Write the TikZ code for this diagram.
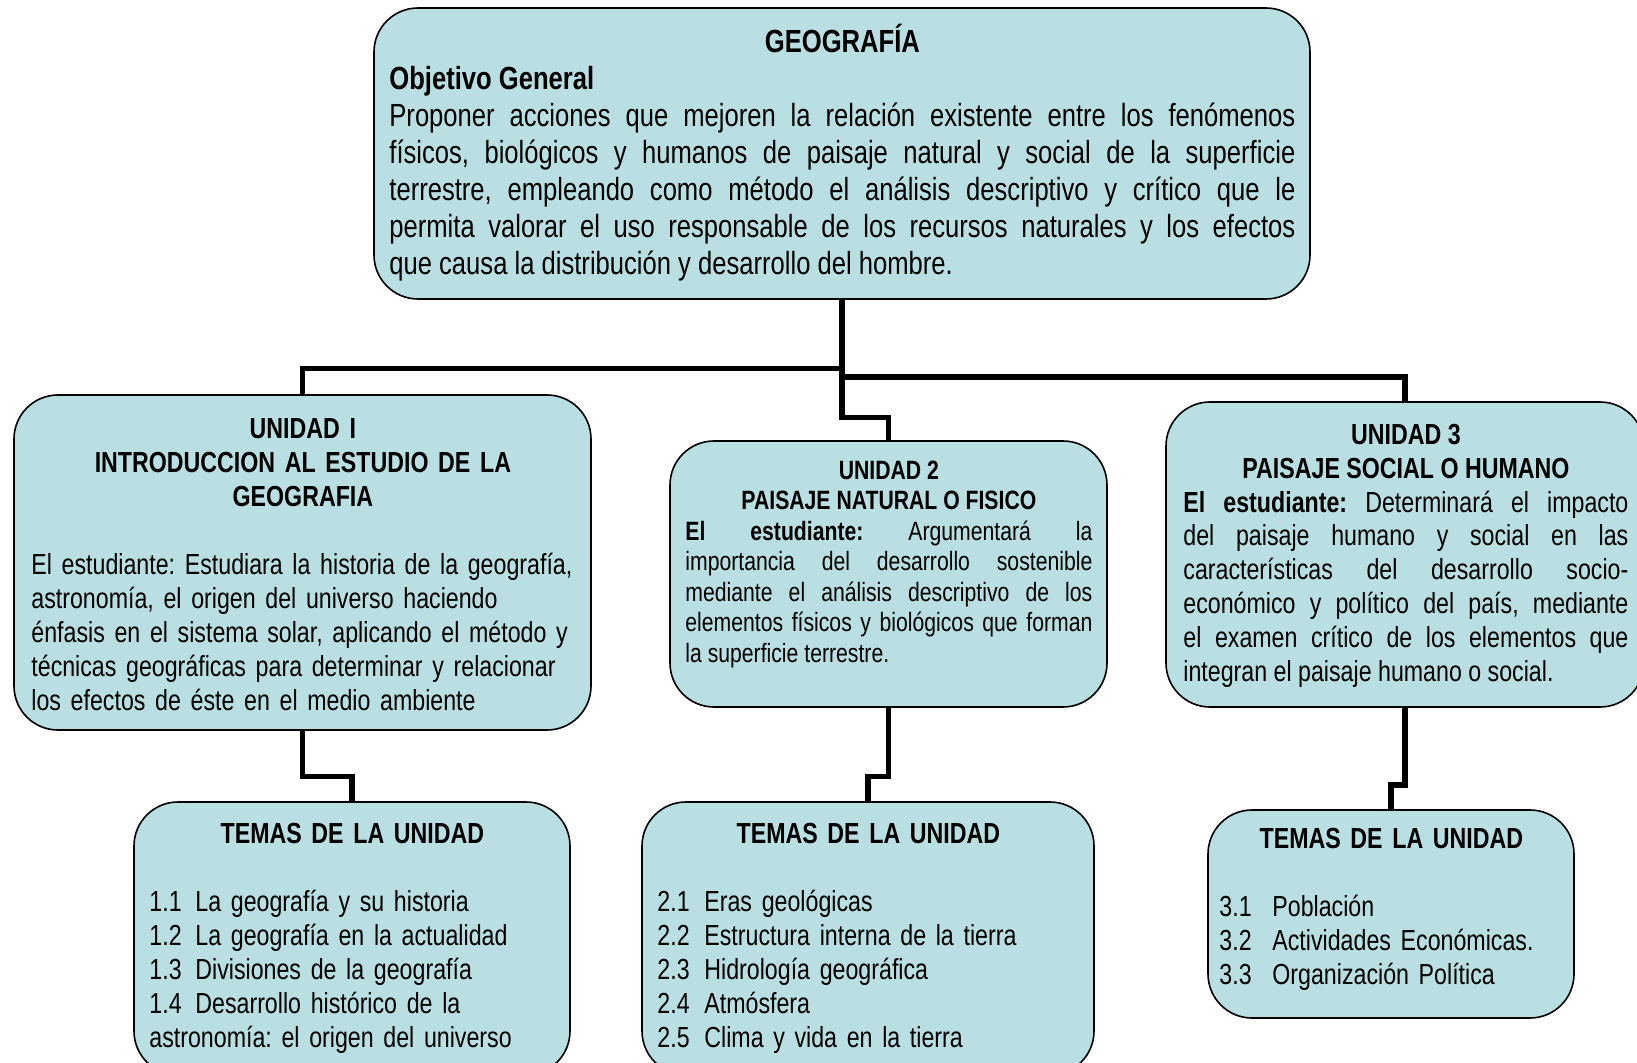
\documentclass[tikz,border=0pt]{standalone}
\usepackage{fontspec}
\setmainfont{Liberation Sans}[FakeStretch=0.80]
\frenchspacing
\hyphenpenalty=10000

\definecolor{celeste}{RGB}{185,223,227}

\tikzset{
  caja/.style={draw, line width=0.8pt, fill=celeste, rounded corners=22pt},
  enlace/.style={line width=2.6pt},
  texto/.style={inner sep=0pt, anchor=base west},
}

\newcommand{\tema}[3][23pt]{\makebox[#1][l]{#2}#3}

\begin{document}
\begin{tikzpicture}[x=0.5pt, y=-0.5pt]
        \useasboundingbox (0,0) rectangle (1637,1063);
        \fill [white] (0,0) rectangle (1637,1063);

        % cajas
        \node [caja, minimum width=468pt, minimum height=145.5pt] (geo) at (842,153.5) {};
        \node [caja, minimum width=288.5pt, minimum height=167.5pt] (unidadI) at (302.5,562.5) {};
        \node [caja, minimum width=218.5pt, minimum height=133pt] (unidadII) at (888.5,574) {};
        \node [caja, minimum width=239pt, minimum height=152.5pt] (unidadIII) at (1405,554.5) {};
        \node [caja, minimum width=218pt, minimum height=136.5pt] (temasI) at (352,938.5) {};
        \node [caja, minimum width=226pt, minimum height=136.5pt] (temasII) at (868,938.5) {};
        \node [caja, minimum width=183pt, minimum height=104pt] (temasIII) at (1391,914) {};

        % textos
        \node [texto, text width=453pt, align=justify,
          font={\fontsize{16}{18.5}\selectfont}] (geoTxt) at (389,53)
        {{\centering\bfseries GEOGRAFÍA\par}
          \textbf{Objetivo General}\par
          Proponer acciones que mejoren la relación existente entre los fenómenos\linebreak
          físicos, biológicos y humanos de paisaje natural y social de la superficie\linebreak
          terrestre, empleando como método el análisis descriptivo y crítico que le\linebreak
          permita valorar el uso responsable de los recursos naturales y los efectos\linebreak
          que causa la distribución y desarrollo del hombre.};

        \node [texto, text width=271.5pt, align=left,
          font={\fontsize{14.5}{17}\selectfont}] (unidadITxt) at (31,438.5)
        {{\centering\bfseries UNIDAD I\\ INTRODUCCION AL ESTUDIO DE LA\\ GEOGRAFIA\par}
          \vspace{17pt}
          El estudiante: Estudiara la historia de la geografía,\\
          astronomía, el origen del universo haciendo\\
          énfasis en el sistema solar, aplicando el método y\\
          técnicas geográficas para determinar y relacionar\\
          los efectos de éste en el medio ambiente};

        \node [texto, text width=203.5pt, align=justify,
          font={\fontsize{13.25}{15.25}\selectfont}] (unidadIITxt) at (685,479.5)
        {{\centering\bfseries UNIDAD 2\\ PAISAJE NATURAL O FISICO\par}
          \textbf{El estudiante:} Argumentará la\linebreak
          importancia del desarrollo sostenible\linebreak
          mediante el análisis descriptivo de los\linebreak
          elementos físicos y biológicos que forman\linebreak
          la superficie terrestre.};

        \node [texto, text width=222.5pt, align=justify,
          font={\fontsize{14.5}{16.9}\selectfont}] (unidadIIITxt) at (1183,444.5)
        {{\centering\bfseries UNIDAD 3\\ PAISAJE SOCIAL O HUMANO\par}
          \textbf{El estudiante:} Determinará el impacto\linebreak
          del paisaje humano y social en las\linebreak
          características del desarrollo socio-\linebreak
          económico y político del país, mediante\linebreak
          el examen crítico de los elementos que\linebreak
          integran el paisaje humano o social.};

        \node [texto, text width=203pt, align=left,
          font={\fontsize{14.5}{17}\selectfont}] (temasITxt) at (149,843.5)
        {{\centering\bfseries TEMAS DE LA UNIDAD\par}
          \vspace{17pt}
          \tema{1.1}{La geografía y su historia}\\
          \tema{1.2}{La geografía en la actualidad}\\
          \tema{1.3}{Divisiones de la geografía}\\
          \tema{1.4}{Desarrollo histórico de la}\\
          astronomía: el origen del universo};

        \node [texto, text width=211pt, align=left,
          font={\fontsize{14.5}{17}\selectfont}] (temasIITxt) at (657,843.5)
        {{\centering\bfseries TEMAS DE LA UNIDAD\par}
          \vspace{17pt}
          \tema[23.5pt]{2.1}{Eras geológicas}\\
          \tema[23.5pt]{2.2}{Estructura interna de la tierra}\\
          \tema[23.5pt]{2.3}{Hidrología geográfica}\\
          \tema[23.5pt]{2.4}{Atmósfera}\\
          \tema[23.5pt]{2.5}{Clima y vida en la tierra}};

        \node [texto, text width=172pt, align=left,
          font={\fontsize{14.5}{17}\selectfont}] (temasIIITxt) at (1219,848.5)
        {{\centering\bfseries TEMAS DE LA UNIDAD\par}
          \vspace{17pt}
          \tema[26.5pt]{3.1}{Población}\\
          \tema[26.5pt]{3.2}{Actividades Económicas.}\\
          \tema[26.5pt]{3.3}{Organización Política}};

        % enlaces
        \coordinate (nivelI) at (0,368.5);
        \coordinate (nivelII) at (0,417.5);
        \coordinate (nivelIII) at (0,377);
        \coordinate (bajoI) at (0,776.5);
        \coordinate (bajoIII) at (0,785);

        \draw [enlace]
        (geo.south) -- (geo.south |- nivelII) -| (unidadII.north)
        (geo.south |- nivelI) -| (unidadI.north)
        (geo.south |- nivelIII) -| (unidadIII.north);

        \draw [enlace]
        (unidadI.south) -- (unidadI.south |- bajoI) -| (temasI.north)
        (unidadII.south) -- (unidadII.south |- bajoI) -| (temasII.north)
        (unidadIII.south) -- (unidadIII.south |- bajoIII) -| (temasIII.north);
      \end{tikzpicture}
\end{document}
